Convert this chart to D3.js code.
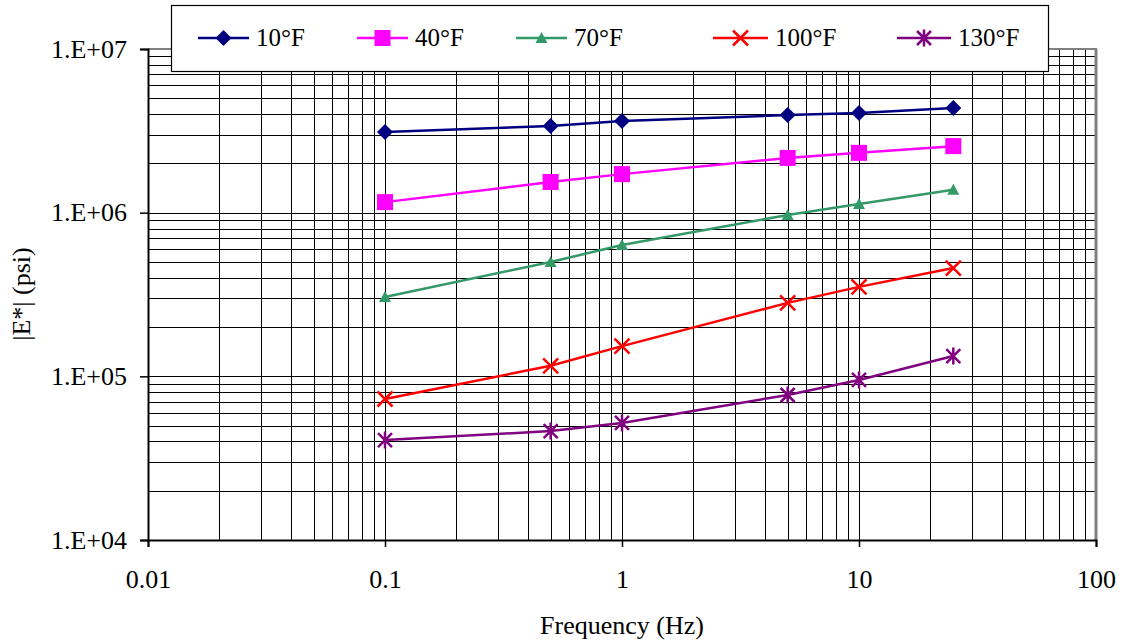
<!DOCTYPE html>
<html><head><meta charset="utf-8">
<script src="https://cdn.jsdelivr.net/npm/d3@7"></script>
<style>body{margin:0;background:#fff}svg{display:block}</style>
</head><body><svg id="c" width="1122" height="643"></svg>
<script>
const freqs = [0.1, 0.5, 1, 5, 10, 25];
const seriesNames = ["10°F", "40°F", "70°F", "100°F", "130°F"];
const s10 = [3.11e6, 3.39e6, 3.63e6, 3.95e6, 4.06e6, 4.36e6];
const s40 = [1.16e6, 1.54e6, 1.72e6, 2.16e6, 2.32e6, 2.55e6];
const s70 = [3.05e5, 5.0e5, 6.34e5, 9.68e5, 1.13e6, 1.38e6];
const s100 = [7.27e4, 1.16e5, 1.53e5, 2.81e5, 3.52e5, 4.59e5];
const s130 = [4.08e4, 4.63e4, 5.19e4, 7.69e4, 9.5e4, 1.33e5];
const xTickLabels = ["0.01", "0.1", "1", "10", "100"];
const yTickLabels = ["1.E+04", "1.E+05", "1.E+06", "1.E+07"];

const colors = ["#000080", "#FF00FF", "#339966", "#FF0000", "#800080"];
const shapes = ["diamond", "square", "triangle", "x", "star"];
const seriesVals = [s10, s40, s70, s100, s130];
const FONT = "Liberation Serif";

const svg = d3.select("#c");
const L = 148, R = 1096, T = 49, B = 540;
const x = d3.scaleLog().domain([0.01, 100]).range([L, R]);
const y = d3.scaleLog().domain([1e4, 1e7]).range([B, T]);

// grid
const g = svg.append("g");
const xMinor = [], yMinor = [];
for (let e = -2; e < 2; e++) for (let m = 1; m < 10; m++) xMinor.push(m * Math.pow(10, e));
for (let e = 4; e < 7; e++) for (let m = 1; m < 10; m++) yMinor.push(m * Math.pow(10, e));
g.selectAll(".vg").data(xMinor.slice(1)).enter().append("line")
  .attr("x1", d => Math.round(x(d)) + 0.5).attr("x2", d => Math.round(x(d)) + 0.5)
  .attr("y1", T).attr("y2", B).attr("stroke", "#000").attr("stroke-width", 1);
g.selectAll(".hg").data(yMinor.slice(1)).enter().append("line")
  .attr("y1", d => Math.round(y(d)) + 0.5).attr("y2", d => Math.round(y(d)) + 0.5)
  .attr("x1", L).attr("x2", R).attr("stroke", "#000").attr("stroke-width", 1);

// frame: gray top/right
svg.append("line").attr("x1", L).attr("x2", R + 1).attr("y1", T).attr("y2", T).attr("stroke", "#808080").attr("stroke-width", 2);
svg.append("line").attr("x1", R).attr("x2", R).attr("y1", T).attr("y2", B).attr("stroke", "#808080").attr("stroke-width", 3);

// axes
const xAxis = d3.axisBottom(x).tickValues([0.01, 0.1, 1, 10, 100])
  .tickFormat((d, i) => xTickLabels[i]).tickSize(7).tickPadding(23);
const yAxis = d3.axisLeft(y).tickValues([1e4, 1e5, 1e6, 1e7])
  .tickFormat((d, i) => yTickLabels[i]).tickSize(8).tickPadding(13);
const ax = svg.append("g").attr("transform", `translate(0,${B})`).call(xAxis);
const ay = svg.append("g").attr("transform", `translate(${L},0)`).call(yAxis);
[ax, ay].forEach(a => {
  a.attr("font-family", FONT).attr("font-size", "26px");
  a.select(".domain").attr("stroke", "#000").attr("stroke-width", 2);
  a.selectAll(".tick line").attr("stroke", "#000").attr("stroke-width", 1.5);
  a.selectAll("text").style("font-family", FONT).style("font-size", "26px").attr("fill", "#000");
});
ay.selectAll("text").attr("dy", "0.32em");

// titles
svg.append("text").attr("x", 622).attr("y", 634).attr("text-anchor", "middle").style("font-family", FONT).style("font-size", "26px").text("Frequency (Hz)");
svg.append("text").attr("transform", "translate(30,294) rotate(-90)").attr("text-anchor", "middle").style("font-family", FONT).style("font-size", "26px").text("|E*| (psi)");

// markers
function marker(sel, shape, color, cx, cy) {
  if (shape === "diamond") {
    sel.append("path").attr("d", `M${cx},${cy-8}L${cx+8},${cy}L${cx},${cy+8}L${cx-8},${cy}Z`).attr("fill", color);
  } else if (shape === "square") {
    sel.append("rect").attr("x", cx - 8).attr("y", cy - 8).attr("width", 16).attr("height", 16).attr("fill", color);
  } else if (shape === "triangle") {
    sel.append("path").attr("d", `M${cx},${cy-6}L${cx+6},${cy+5}L${cx-6},${cy+5}Z`).attr("fill", color);
  } else if (shape === "x") {
    sel.append("path").attr("d", `M${cx-7.5},${cy-7.5}L${cx+7.5},${cy+7.5}M${cx+7.5},${cy-7.5}L${cx-7.5},${cy+7.5}`).attr("stroke", color).attr("stroke-width", 2.5);
  } else {
    sel.append("path").attr("d", `M${cx-7},${cy-7}L${cx+7},${cy+7}M${cx+7},${cy-7}L${cx-7},${cy+7}M${cx},${cy-8.5}L${cx},${cy+8.5}`).attr("stroke", color).attr("stroke-width", 2.5);
  }
}

const line = d3.line().x(d => x(d[0])).y(d => y(d[1]));
seriesVals.forEach((vals, i) => {
  const pts = freqs.map((f, j) => [f, vals[j]]);
  const gs = svg.append("g");
  gs.append("path").attr("d", line(pts)).attr("fill", "none").attr("stroke", colors[i]).attr("stroke-width", 2.5);
  pts.forEach(p => marker(gs, shapes[i], colors[i], x(p[0]), y(p[1])));
});

// legend
const lg = svg.append("g");
lg.append("rect").attr("x", 171.5).attr("y", 5.5).attr("width", 877).attr("height", 66).attr("fill", "#fff").attr("stroke", "#000").attr("stroke-width", 1.2);
const legX = [198, 357, 516, 713, 897];
const legW = [51, 51, 51, 55, 54];
seriesNames.forEach((n, i) => {
  const ly = 38;
  lg.append("line").attr("x1", legX[i]).attr("x2", legX[i] + legW[i]).attr("y1", ly).attr("y2", ly).attr("stroke", colors[i]).attr("stroke-width", 2.5);
  marker(lg, shapes[i], colors[i], legX[i] + legW[i] / 2, ly);
  lg.append("text").attr("x", legX[i] + legW[i] + 7).attr("y", ly + 8).style("font-family", FONT).style("font-size", "25px").text(n);
});
</script></body></html>
